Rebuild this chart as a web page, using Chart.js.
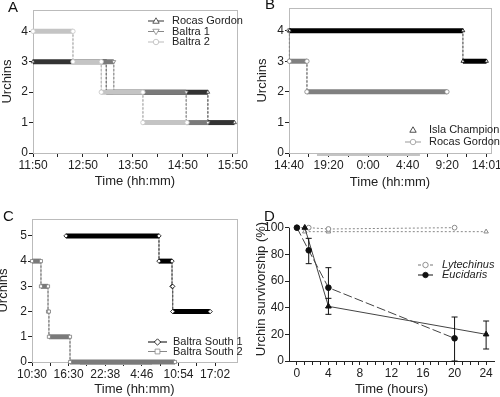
<!DOCTYPE html>
<html>
<head>
<meta charset="utf-8">
<script src="https://cdn.jsdelivr.net/npm/chart.js@4.4.1/dist/chart.umd.min.js"></script>
<style>
  body { margin: 0; background: #fff; }
  #wrap { position: relative; width: 500px; height: 397px; }
  canvas { position: absolute; }
</style>
</head>
<body>
<div id="wrap">
  <canvas id="cA" width="250" height="197" style="left:0;top:0"></canvas>
  <canvas id="cB" width="250" height="197" style="left:250px;top:0"></canvas>
  <canvas id="cC" width="250" height="200" style="left:0;top:197px"></canvas>
  <canvas id="cD" width="250" height="200" style="left:250px;top:197px"></canvas>
</div>
<script>
// Panel A - minutes after 11:50, counts between change times
const aTickLabels = ['11:50', '12:50', '13:50', '14:50', '15:50'];
const aRocasTimes = [0, 88, 210, 242];
const aRocasCounts = [3, 2, 1];
const aBaltra1Times = [82, 97, 184, 210];
const aBaltra1Counts = [3, 2, 1];
const aBaltra2Times = [0, 48, 82, 132, 185];
const aBaltra2Counts = [4, 3, 2, 1];

// Panel B - minutes after 14:40
const bTickLabels = ['14:40', '19:20', '0:00', '4:40', '9:20', '14:01'];
const bIslaTimes = [5, 1231, 1398];
const bIslaCounts = [4, 3];
const bRocasTimes = [0, 3, 127, 1118];
const bRocasCounts = [4, 3, 2];
const bNight = [198, 927];

// Panel C - minutes after first tick
const cTickLabels = ['10:30', '16:30', '22:38', '4:46', '10:54', '17:02'];
const cSouth1Times = [342, 1276, 1407, 1414, 1790];
const cSouth1Counts = [5, 4, 3, 2];
const cSouth2Times = [0, 90, 161, 170, 382, 1437];
const cSouth2Counts = [4, 3, 2, 1, 0];
const cNight = [482, 1206];

// Panel D - survivorship (%) over hours
const dTickLabels = [0, 4, 8, 12, 16, 20, 24];
const lytHoursA = [0, 1.5, 4, 20];
const lytValsA = [100, 100, 99, 100];
const lytHoursB = [1, 4, 24];
const lytValsB = [97, 97, 97];
const eucHoursA = [0, 1.5, 4, 20];
const eucValsA = [100, 83, 55, 17];
const eucLowA = [100, 73, 40, 0];
const eucHighA = [100, 92, 70, 33];
const eucHoursB = [1, 4, 24];
const eucValsB = [100, 41, 20];
const eucLowB = [100, 35, 9];
const eucHighB = [100, 47, 30];

const FONT = "'Liberation Sans', Arial, sans-serif";
Chart.defaults.font.family = FONT;
Chart.defaults.color = '#222';

// per-canvas extras (kept out of chart options so they are read as plain objects)
const decor = {};

function stepPoints(times, counts) {
  const pts = [];
  counts.forEach((c, i) => {
    pts.push({ x: times[i], y: c });
    pts.push({ x: times[i + 1], y: c });
  });
  return pts;
}

function pairs(xs, ys) {
  return xs.map((x, i) => ({ x: x, y: ys[i] }));
}

function stepSet(times, counts, color, connColor, style, rot) {
  const flat = c => c.p0.parsed.y === c.p1.parsed.y;
  return {
    data: stepPoints(times, counts),
    borderColor: color,
    borderWidth: 5,
    pointStyle: style,
    pointRotation: rot || 0,
    pointRadius: 2.2,
    pointBackgroundColor: '#fff',
    pointBorderColor: color,
    pointBorderWidth: 0.8,
    clip: 8,
    segment: {
      borderWidth: c => flat(c) ? 5 : 1,
      borderDash: c => flat(c) ? [] : [2, 2],
      borderColor: c => flat(c) ? color : connColor
    }
  };
}

// small open / filled legend symbols
function drawMarker(ctx, it, x, y) {
  const r = 3.2;
  ctx.save();
  ctx.beginPath();
  if (it.shape === 'circle') {
    ctx.arc(x, y, r * 0.85, 0, Math.PI * 2);
  } else if (it.shape === 'triangle') {
    const s = it.down ? -1 : 1;
    ctx.moveTo(x, y - s * r);
    ctx.lineTo(x + r, y + s * r * 0.7);
    ctx.lineTo(x - r, y + s * r * 0.7);
    ctx.closePath();
  } else if (it.shape === 'rect') {
    ctx.rect(x - r * 0.75, y - r * 0.75, r * 1.5, r * 1.5);
  } else {
    ctx.moveTo(x, y - r); ctx.lineTo(x + r, y); ctx.lineTo(x, y + r); ctx.lineTo(x - r, y);
    ctx.closePath();
  }
  ctx.fillStyle = it.solid ? it.col : '#fff';
  ctx.fill();
  ctx.strokeStyle = it.col;
  ctx.lineWidth = 0.8;
  ctx.setLineDash([]);
  ctx.stroke();
  ctx.restore();
}

const panelDecor = {
  id: 'panelDecor',
  beforeDatasetsDraw(chart) {
    const o = decor[chart.canvas.id];
    const { ctx, chartArea: a } = chart;
    const x = chart.scales.x, y = chart.scales.y;
    ctx.save();
    if (o.frame) {
      ctx.strokeStyle = '#bbb';
      ctx.lineWidth = 1;
      ctx.strokeRect(a.left + 0.5, a.top + 0.5, a.right - a.left, a.bottom - a.top);
    }
    if (o.yAxisTo !== undefined) {
      const px = Math.round(a.left) + 0.5;
      ctx.strokeStyle = '#222';
      ctx.lineWidth = 1;
      ctx.beginPath();
      ctx.moveTo(px, y.getPixelForValue(0));
      ctx.lineTo(px, y.getPixelForValue(o.yAxisTo));
      ctx.stroke();
    }
    if (o.night) {
      const x0 = x.getPixelForValue(o.night[0]);
      const x1 = x.getPixelForValue(o.night[1]);
      ctx.fillStyle = '#c4c4c4';
      ctx.fillRect(x0, x.top + 1, x1 - x0, 2);
    }
    ctx.restore();
  },
  afterDatasetsDraw(chart) {
    const { ctx } = chart;
    const y = chart.scales.y;
    chart.data.datasets.forEach((ds, i) => {
      if (!ds.errLow) return;
      const meta = chart.getDatasetMeta(i);
      ctx.save();
      ctx.strokeStyle = '#111';
      ctx.lineWidth = 1;
      meta.data.forEach((pt, j) => {
        const lo = y.getPixelForValue(ds.errLow[j]);
        const hi = y.getPixelForValue(ds.errHigh[j]);
        if (Math.abs(lo - hi) < 1) return;
        ctx.beginPath();
        ctx.moveTo(pt.x, lo); ctx.lineTo(pt.x, hi);
        ctx.moveTo(pt.x - 3, lo); ctx.lineTo(pt.x + 3, lo);
        ctx.moveTo(pt.x - 3, hi); ctx.lineTo(pt.x + 3, hi);
        ctx.stroke();
      });
      ctx.restore();
    });
  },
  afterDraw(chart) {
    const o = decor[chart.canvas.id];
    const { ctx } = chart;
    ctx.save();
    ctx.fillStyle = '#111';
    ctx.font = '15px ' + FONT;
    ctx.textBaseline = 'alphabetic';
    ctx.fillText(o.letter.text, o.letter.x, o.letter.y);
    const lg = o.legend;
    lg.items.forEach((it, i) => {
      const yy = lg.y + i * lg.dy;
      if (!it.noLine) {
        ctx.save();
        ctx.strokeStyle = it.col;
        ctx.lineWidth = 1;
        ctx.setLineDash(it.dash || []);
        ctx.beginPath();
        ctx.moveTo(lg.x, yy); ctx.lineTo(lg.x + lg.len, yy);
        ctx.stroke();
        ctx.restore();
      }
      drawMarker(ctx, it, lg.x + lg.len / 2, yy);
      ctx.fillStyle = '#222';
      ctx.font = (lg.italic ? 'italic ' : '') + '11px ' + FONT;
      ctx.textBaseline = 'middle';
      ctx.fillText(it.label, lg.textX, yy);
    });
    ctx.restore();
  }
};

function makePanel(id, p) {
  decor[id] = p;
  const canvas = document.getElementById(id);
  const W = canvas.width, H = canvas.height;
  const xTickVals = [];
  const nMinor = (p.xLabels.length - 1) * p.sub;
  for (let k = 0; k <= nMinor; k++) xTickVals.push(p.xStart + k * p.xStep / p.sub);
  const axisLine = { display: true, color: '#222', width: 1 };
  const tickGrid = { display: true, drawOnChartArea: false, drawTicks: true, tickLength: 4, color: '#222' };
  return new Chart(canvas, {
    type: 'line',
    data: { datasets: p.datasets },
    options: {
      responsive: false,
      devicePixelRatio: 1,
      animation: false,
      layout: { padding: { left: 0, top: p.area.top, right: W - p.area.right, bottom: 0 } },
      plugins: {
        legend: { display: false },
        tooltip: { enabled: false }
      },
      scales: {
        x: {
          type: 'linear',
          min: p.xMin, max: p.xMax,
          border: axisLine,
          grid: tickGrid,
          afterBuildTicks: ax => { ax.ticks = xTickVals.map(v => ({ value: v })); },
          afterFit: ax => { ax.height = H - p.area.bottom; ax.paddingLeft = 0; ax.paddingRight = 0; },
          ticks: {
            autoSkip: false, maxRotation: 0, minRotation: 0, padding: 1,
            font: { size: 12 }, color: '#222',
            callback: (v, i) => i % p.sub === 0 ? String(p.xLabels[i / p.sub]) : ''
          },
          title: { display: true, text: p.xTitle, font: { size: 13 }, color: '#222', padding: { top: 0, bottom: p.xTitlePad } }
        },
        y: {
          min: 0, max: p.yMax,
          border: Object.assign({}, axisLine, { display: p.yAxisTo === undefined }),
          grid: tickGrid,
          afterBuildTicks: ax => { ax.ticks = p.yTicks.map(v => ({ value: v })); },
          afterFit: ax => { ax.width = p.area.left; ax.paddingTop = 0; ax.paddingBottom = 0; },
          ticks: { padding: 1, font: { size: 12 }, color: '#222' },
          title: { display: true, text: p.yTitle, font: { size: 13 }, color: '#222', padding: { top: p.yTitlePad, bottom: 0 } }
        }
      }
    },
    plugins: [panelDecor]
  });
}

makePanel('cA', {
  area: { left: 33, right: 237, top: 10, bottom: 153 },
  xMin: 0, xMax: 245, xStart: 0, xStep: 60, sub: 2, xLabels: aTickLabels,
  yMax: 4.7, yTicks: [0, 1, 2, 3, 4],
  xTitle: 'Time (hh:mm)', yTitle: 'Urchins', xTitlePad: 8, yTitlePad: 0,
  frame: true,
  letter: { text: 'A', x: 8, y: 12 },
  legend: {
    x: 148, len: 16, textX: 172, y: 21, dy: 10.5,
    items: [
      { label: 'Rocas Gordon', col: '#333', shape: 'triangle' },
      { label: 'Baltra 1', col: '#888', shape: 'triangle', down: true },
      { label: 'Baltra 2', col: '#bbb', shape: 'circle' }
    ]
  },
  // first dataset is drawn on top
  datasets: [
    stepSet(aBaltra2Times, aBaltra2Counts, '#c4c4c4', '#bbb', 'circle'),
    stepSet(aBaltra1Times, aBaltra1Counts, '#7a7a7a', '#999', 'triangle', 180),
    stepSet(aRocasTimes, aRocasCounts, '#333', '#777', 'triangle')
  ]
});

makePanel('cB', {
  area: { left: 39, right: 241, top: 8, bottom: 153 },
  xMin: 0, xMax: 1430, xStart: 0, xStep: 280, sub: 2, xLabels: bTickLabels,
  yMax: 4.74, yTicks: [0, 1, 2, 3, 4],
  xTitle: 'Time (hh:mm)', yTitle: 'Urchins', xTitlePad: 7, yTitlePad: 5,
  frame: true, night: bNight,
  letter: { text: 'B', x: 15, y: 9 },
  legend: {
    x: 155, len: 16, textX: 179, y: 130, dy: 12,
    items: [
      { label: 'Isla Champion', col: '#222', shape: 'triangle', noLine: true },
      { label: 'Rocas Gordon', col: '#999', shape: 'circle' }
    ]
  },
  datasets: [
    stepSet(bIslaTimes, bIslaCounts, '#000', '#777', 'triangle'),
    stepSet(bRocasTimes, bRocasCounts, '#808080', '#888', 'circle')
  ]
});

makePanel('cC', {
  area: { left: 32, right: 237, top: 22, bottom: 165 },
  xMin: 0, xMax: 2060, xStart: 0, xStep: 368, sub: 2, xLabels: cTickLabels,
  yMax: 5.67, yTicks: [0, 1, 2, 3, 4, 5],
  xTitle: 'Time (hh:mm)', yTitle: 'Urchins', xTitlePad: 0, yTitlePad: -4,
  frame: true, night: cNight,
  letter: { text: 'C', x: 3, y: 24 },
  legend: {
    x: 148, len: 19, textX: 173, y: 145, dy: 9.5,
    items: [
      { label: 'Baltra South 1', col: '#000', shape: 'diamond' },
      { label: 'Baltra South 2', col: '#888', shape: 'rect' }
    ]
  },
  datasets: [
    stepSet(cSouth1Times, cSouth1Counts, '#000', '#555', 'rectRot'),
    stepSet(cSouth2Times, cSouth2Counts, '#7a7a7a', '#888', 'rect')
  ]
});

makePanel('cD', {
  area: { left: 39, right: 244, top: 20, bottom: 164 },
  xMin: -1, xMax: 25, xStart: 0, xStep: 4, sub: 4, xLabels: dTickLabels,
  yMax: 108, yTicks: [0, 20, 40, 60, 80, 100], yAxisTo: 100,
  xTitle: 'Time (hours)', yTitle: 'Urchin survivorship (%)', xTitlePad: 0, yTitlePad: 4,
  frame: false,
  letter: { text: 'D', x: 14, y: 24 },
  legend: {
    x: 168, len: 15, textX: 192, y: 68, dy: 10, italic: true,
    items: [
      { label: 'Lytechinus', col: '#777', shape: 'circle', dash: [3, 3] },
      { label: 'Eucidaris', col: '#111', shape: 'circle', solid: true }
    ]
  },
  datasets: [
    {
      data: pairs(eucHoursA, eucValsA), errLow: eucLowA, errHigh: eucHighA,
      borderColor: '#444', borderWidth: 1, borderDash: [9, 3],
      pointStyle: 'circle', pointRadius: 2.8, pointBackgroundColor: '#111', pointBorderColor: '#111', clip: 8
    },
    {
      data: pairs(eucHoursB, eucValsB), errLow: eucLowB, errHigh: eucHighB,
      borderColor: '#444', borderWidth: 1,
      pointStyle: 'triangle', pointRadius: 3.2, pointBackgroundColor: '#111', pointBorderColor: '#111', clip: 8
    },
    {
      data: pairs(lytHoursA, lytValsA),
      borderColor: '#888', borderWidth: 1, borderDash: [2, 2],
      pointStyle: 'circle', pointRadius: 2.4, pointBackgroundColor: '#fff', pointBorderColor: '#888', clip: 8
    },
    {
      data: pairs(lytHoursB, lytValsB),
      borderColor: '#888', borderWidth: 1, borderDash: [2, 2],
      pointStyle: 'triangle', pointRadius: 2.6, pointBackgroundColor: '#fff', pointBorderColor: '#888', clip: 8
    }
  ]
});
</script>
</body>
</html>
